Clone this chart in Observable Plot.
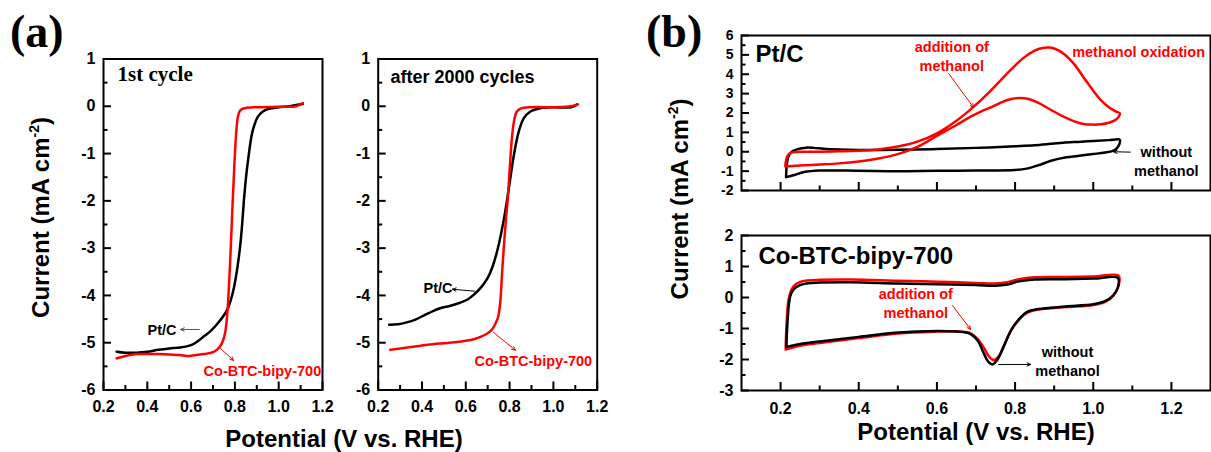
<!DOCTYPE html>
<html><head><meta charset="utf-8">
<script src="https://cdn.jsdelivr.net/npm/d3@7"></script>
<script src="https://cdn.jsdelivr.net/npm/@observablehq/plot@0.6"></script>
<style>
body{margin:0;background:#fff;}
#wrap{position:relative;width:1211px;height:452px;overflow:hidden;background:#fff;}
#wrap > svg{position:absolute;}
</style></head><body><div id="wrap"></div>
<script>
// ---------- DATA (x = potential V vs RHE, y = current mA cm-2) ----------
// (a) LSV, 1st cycle
const a1PtC = [[0.26,-5.19],[0.30,-5.21],[0.35,-5.21],[0.40,-5.19],[0.45,-5.15],[0.50,-5.12],[0.55,-5.10],[0.60,-5.05],[0.63,-4.97],[0.66,-4.86],[0.69,-4.75],[0.72,-4.60],[0.75,-4.42],[0.77,-4.25],[0.79,-3.95],[0.805,-3.6],[0.823,-3.0],[0.833,-2.5],[0.841,-2.0],[0.852,-1.45],[0.864,-1.0],[0.877,-0.6],[0.89,-0.38],[0.905,-0.22],[0.925,-0.12],[0.95,-0.06],[1.00,-0.02],[1.05,0.0],[1.08,0.03],[1.11,0.05]];
const a1Co = [[0.26,-5.33],[0.30,-5.28],[0.35,-5.24],[0.40,-5.24],[0.45,-5.24],[0.50,-5.25],[0.55,-5.26],[0.58,-5.28],[0.62,-5.26],[0.66,-5.24],[0.70,-5.20],[0.72,-5.14],[0.74,-5.02],[0.755,-4.8],[0.765,-4.4],[0.775,-3.6],[0.782,-2.9],[0.79,-2.0],[0.798,-1.2],[0.806,-0.55],[0.814,-0.22],[0.825,-0.08],[0.845,-0.04],[0.90,-0.02],[1.00,-0.01],[1.08,0.0],[1.11,0.07]];
// (a) LSV, after 2000 cycles
const a2PtC = [[0.25,-4.62],[0.29,-4.61],[0.33,-4.57],[0.37,-4.51],[0.41,-4.42],[0.45,-4.33],[0.49,-4.26],[0.53,-4.22],[0.57,-4.16],[0.61,-4.08],[0.64,-3.97],[0.67,-3.83],[0.70,-3.63],[0.72,-3.42],[0.745,-3.03],[0.775,-2.36],[0.797,-1.72],[0.82,-1.02],[0.842,-0.53],[0.865,-0.25],[0.895,-0.11],[0.94,-0.04],[1.00,-0.02],[1.08,-0.02],[1.11,0.04]];
const a2Co = [[0.255,-5.15],[0.30,-5.12],[0.35,-5.09],[0.40,-5.06],[0.45,-5.03],[0.50,-5.01],[0.55,-4.99],[0.60,-4.96],[0.64,-4.92],[0.67,-4.87],[0.70,-4.80],[0.72,-4.72],[0.735,-4.6],[0.748,-4.45],[0.758,-4.1],[0.766,-3.5],[0.775,-2.9],[0.783,-2.4],[0.791,-2.0],[0.798,-1.5],[0.805,-1.0],[0.812,-0.6],[0.82,-0.32],[0.832,-0.12],[0.85,-0.05],[0.90,-0.02],[1.00,-0.02],[1.08,0.0],[1.11,0.04]];
// (b) CV, Pt/C
const bPtNoMeOH = [[0.214,-1.31],[0.215,-0.9],[0.217,-0.5],[0.221,-0.2],[0.23,0.02],[0.245,0.14],[0.265,0.21],[0.285,0.2],[0.31,0.15],[0.35,0.11],[0.4,0.09],[0.5,0.1],[0.6,0.14],[0.7,0.2],[0.8,0.28],[0.85,0.33],[0.9,0.42],[0.95,0.5],[1.0,0.56],[1.04,0.6],[1.068,0.62],[1.067,0.4],[1.06,0.18],[1.05,0.05],[1.03,-0.04],[1.0,-0.12],[0.96,-0.22],[0.92,-0.33],[0.89,-0.48],[0.86,-0.7],[0.83,-0.87],[0.8,-0.94],[0.7,-0.97],[0.6,-0.98],[0.5,-1.0],[0.4,-0.98],[0.3,-0.97],[0.26,-1.05],[0.235,-1.2],[0.214,-1.31]];
const bPtMeOH = [[0.212,-0.76],[0.214,-0.45],[0.218,-0.2],[0.226,-0.06],[0.24,-0.01],[0.27,0.0],[0.3,0.0],[0.35,0.02],[0.4,0.05],[0.45,0.12],[0.5,0.27],[0.55,0.52],[0.6,0.95],[0.65,1.6],[0.69,2.25],[0.73,3.0],[0.76,3.62],[0.79,4.25],[0.82,4.82],[0.85,5.22],[0.87,5.36],[0.885,5.38],[0.9,5.33],[0.925,5.05],[0.95,4.55],[0.975,3.85],[1.0,3.15],[1.02,2.65],[1.04,2.3],[1.058,2.08],[1.068,1.98],[1.065,1.8],[1.055,1.62],[1.04,1.5],[1.02,1.42],[1.0,1.4],[0.975,1.43],[0.95,1.58],[0.92,1.85],[0.89,2.18],[0.86,2.52],[0.835,2.72],[0.812,2.78],[0.79,2.72],[0.765,2.55],[0.74,2.3],[0.715,2.1],[0.69,1.85],[0.65,1.38],[0.6,0.82],[0.55,0.25],[0.5,-0.12],[0.45,-0.35],[0.4,-0.5],[0.35,-0.6],[0.3,-0.66],[0.26,-0.7],[0.212,-0.76]];
// (b) CV, Co-BTC-bipy-700
const bCoNoMeOH = [[0.215,-1.6],[0.216,-1.2],[0.218,-0.74],[0.221,-0.25],[0.225,0.05],[0.234,0.27],[0.25,0.4],[0.27,0.46],[0.3,0.48],[0.38,0.49],[0.5,0.45],[0.6,0.43],[0.7,0.4],[0.75,0.38],[0.78,0.42],[0.81,0.52],[0.85,0.58],[0.93,0.59],[1.0,0.61],[1.063,0.63],[1.063,0.33],[1.05,0.05],[1.03,-0.12],[1.0,-0.22],[0.93,-0.29],[0.86,-0.37],[0.83,-0.47],[0.81,-0.7],[0.79,-1.05],[0.77,-1.6],[0.755,-2.0],[0.742,-2.16],[0.73,-2.05],[0.718,-1.75],[0.705,-1.4],[0.685,-1.17],[0.65,-1.1],[0.6,-1.08],[0.5,-1.13],[0.4,-1.27],[0.3,-1.42],[0.25,-1.5],[0.215,-1.6]];
const bCoMeOH = [[0.213,-1.68],[0.214,-1.2],[0.216,-0.7],[0.219,-0.2],[0.224,0.12],[0.233,0.36],[0.25,0.5],[0.27,0.55],[0.3,0.57],[0.38,0.58],[0.5,0.54],[0.6,0.51],[0.7,0.47],[0.75,0.45],[0.78,0.49],[0.81,0.59],[0.85,0.65],[0.93,0.66],[1.0,0.68],[1.065,0.7],[1.065,0.38],[1.052,0.07],[1.032,-0.13],[1.0,-0.24],[0.93,-0.31],[0.86,-0.39],[0.83,-0.5],[0.81,-0.72],[0.79,-1.05],[0.772,-1.55],[0.758,-1.9],[0.745,-2.02],[0.733,-1.9],[0.72,-1.62],[0.705,-1.35],[0.685,-1.15],[0.65,-1.09],[0.6,-1.1],[0.5,-1.16],[0.4,-1.31],[0.3,-1.47],[0.25,-1.56],[0.213,-1.68]];

// ---------- TICKS ----------
const aXTicks = [0.2,0.4,0.6,0.8,1.0,1.2];
const aXMinor = [0.3,0.5,0.7,0.9,1.1];
const aYTicks = [-6,-5,-4,-3,-2,-1,0,1];
const aYMinor = [-5.5,-4.5,-3.5,-2.5,-1.5,-0.5,0.5];
const bXTicks = [0.2,0.4,0.6,0.8,1.0,1.2];
const bXMinor = [0.3,0.5,0.7,0.9,1.1];
const bTopYTicks = [-2,-1,0,1,2,3,4,5,6];
const bTopYMinor = [-1.5,-0.5,0.5,1.5,2.5,3.5,4.5,5.5];
const bBotYTicks = [-3,-2,-1,0,1,2];
const bBotYMinor = [-2.5,-1.5,-0.5,0.5,1.5];

// ---------- ANNOTATIONS (data coordinates) ----------
const a1Notes = [
  {x:0.264, y:0.72, text:"1st cycle", color:"#000", serif:true, size:21, anchor:"start"},
  {x:0.401, y:-4.70, text:"Pt/C", color:"#000", size:14.5, anchor:"start"},
  {x:0.657, y:-5.566, text:"Co-BTC-bipy-700", color:"#ff0000", size:14.5, anchor:"start"}
];
const a1Arrows = [
  {x1:0.638, y1:-4.72, x2:0.552, y2:-4.72, color:"#555"},
  {x1:0.734, y1:-5.12, x2:0.794, y2:-5.375, color:"#ff0000"}
];
const a2Notes = [
  {x:0.256, y:0.65, text:"after 2000 cycles", color:"#000", size:18, anchor:"start"},
  {x:0.407, y:-3.83, text:"Pt/C", color:"#000", size:14.5, anchor:"start"},
  {x:0.640, y:-5.375, text:"Co-BTC-bipy-700", color:"#ff0000", size:14.5, anchor:"start"}
];
const a2Arrows = [
  {x1:0.640, y1:-3.91, x2:0.539, y2:-3.87, color:"#000"},
  {x1:0.726, y1:-4.78, x2:0.827, y2:-5.16, color:"#ff0000"}
];
const bTopNotes = [
  {x:0.136, y:5.17, text:"Pt/C", color:"#000", size:24, anchor:"start"},
  {x:0.638, y:4.97, text:"addition of\nmethanol", color:"#ff0000", size:14.5, anchor:"middle"},
  {x:0.946, y:5.2, text:"methanol oxidation", color:"#ff0000", size:14.5, anchor:"start"},
  {x:1.187, y:-0.46, text:"without\nmethanol", color:"#000", size:14.5, anchor:"middle"}
];
const bTopArrows = [
  {x1:0.63, y1:4.04, x2:0.694, y2:2.28, color:"#ff0000"},
  {x1:1.095, y1:-0.02, x2:1.052, y2:0.0, color:"#000"}
];
const bBotNotes = [
  {x:0.1435, y:1.40, text:"Co-BTC-bipy-700", color:"#000", size:24, anchor:"start"},
  {x:0.546, y:-0.153, text:"addition of\nmethanol", color:"#ff0000", size:14.5, anchor:"middle"},
  {x:0.934, y:-2.03, text:"without\nmethanol", color:"#000", size:14.5, anchor:"middle"}
];
const bBotArrows = [
  {x1:0.64, y1:-0.26, x2:0.686, y2:-1.03, color:"#ff0000"},
  {x1:0.758, y1:-2.16, x2:0.84, y2:-2.16, color:"#000"}
];

// ---------- RENDER ----------
const SANS = '"Liberation Sans", Arial, Helvetica, sans-serif';
const SERIF = '"Liberation Serif", "Times New Roman", serif';
const RED = "#ff0000";
const wrap = document.getElementById("wrap");

function panel(cfg) {
  const fw = cfg.width - cfg.m[1] - cfg.m[3];   // frame width (px)
  const fh = cfg.height - cfg.m[0] - cfg.m[2];  // frame height (px)
  const marks = [];
  // inward ticks (major 8px, minor 4.5px)
  marks.push(Plot.tickX(cfg.xTicks, {x: d => d, insetTop: fh - 8, stroke:"#000", strokeWidth:2}));
  marks.push(Plot.tickX(cfg.xMinor, {x: d => d, insetTop: fh - 4.5, stroke:"#000", strokeWidth:2}));
  marks.push(Plot.tickY(cfg.yTicks, {y: d => d, insetRight: fw - 8, stroke:"#000", strokeWidth:2}));
  marks.push(Plot.tickY(cfg.yMinor, {y: d => d, insetRight: fw - 4.5, stroke:"#000", strokeWidth:2}));
  // tick labels (no outward ticks)
  marks.push(Plot.axisX(cfg.xTicks, {anchor:"bottom", tickSize:0, tickPadding: cfg.xPad,
    tickFormat: cfg.xLabels ? (d => d.toFixed(1)) : (() => ""), fontSize: cfg.xFont, fontWeight:"bold",
    fontFamily: SANS, label:null, fill:"#000"}));
  marks.push(Plot.axisY(cfg.yTicks, {anchor:"left", tickSize:0, tickPadding: 8,
    tickFormat: d => String(d), fontSize: cfg.yFont, fontWeight:"bold", fontFamily: SANS,
    label:null, fill:"#000"}));
  for (const s of cfg.series) {
    marks.push(Plot.line(s.data, {x: d => d[0], y: d => d[1], stroke: s.color, strokeWidth: s.width || 2.5, curve: "catmull-rom"}));
  }
  marks.push(Plot.frame({stroke:"#000", strokeWidth:2, fill:"none"}));
  marks.push(Plot.arrow(cfg.arrows, {x1:"x1", y1:"y1", x2:"x2", y2:"y2", stroke: d => d.color, strokeWidth:1, headLength:6, headAngle:50}));
  const groups = [
    {serif:false, anchor:"start"}, {serif:true, anchor:"start"}, {serif:false, anchor:"middle"}
  ];
  for (const g of groups) {
    const sub = cfg.notes.filter(d => !!d.serif === g.serif && d.anchor === g.anchor);
    if (!sub.length) continue;
    marks.push(Plot.text(sub, {x:"x", y:"y", text:"text", fill: d => d.color,
      fontSize: d => d.size, fontWeight:"bold", fontFamily: g.serif ? SERIF : SANS,
      textAnchor: g.anchor, lineAnchor:"middle", lineHeight:1.3}));
  }
  const svg = Plot.plot({
    width: cfg.width, height: cfg.height,
    marginLeft: cfg.m[3], marginRight: cfg.m[1], marginTop: cfg.m[0], marginBottom: cfg.m[2],
    x: {domain: cfg.xDomain, label:null},
    y: {domain: cfg.yDomain, label:null},
    style: {background:"transparent", overflow:"visible", fontFamily: SANS, color:"#000"},
    marks
  });
  svg.style.left = cfg.left + "px";
  svg.style.top = cfg.top + "px";
  wrap.appendChild(svg);
  return svg;
}

// Panel a1
panel({left:0, top:0, width:335, height:452, m:[58.5,13,62.5,103],
  xDomain:[0.2,1.2], yDomain:[-6,1], xTicks:aXTicks, xMinor:aXMinor, yTicks:aYTicks, yMinor:aYMinor,
  xLabels:true, xPad:10.5, xFont:16, yFont:16,
  series:[{data:a1PtC, color:"#000"},{data:a1Co, color:RED}],
  notes:a1Notes, arrows:a1Arrows});
// Panel a2
panel({left:335, top:0, width:280, height:452, m:[58.5,18.3,62.5,42.7],
  xDomain:[0.2,1.2], yDomain:[-6,1], xTicks:aXTicks, xMinor:aXMinor, yTicks:aYTicks, yMinor:aYMinor,
  xLabels:true, xPad:10.5, xFont:16, yFont:16,
  series:[{data:a2PtC, color:"#000"},{data:a2Co, color:RED}],
  notes:a2Notes, arrows:a2Arrows});
// Panel b, Pt/C
panel({left:615, top:0, width:596, height:200, m:[35,1,10,126],
  xDomain:[0.1,1.3], yDomain:[-2,6], xTicks:bXTicks, xMinor:bXMinor, yTicks:bTopYTicks, yMinor:bTopYMinor,
  xLabels:false, xPad:10, xFont:16, yFont:14,
  series:[{data:bPtNoMeOH, color:"#000"},{data:bPtMeOH, color:RED}],
  notes:bTopNotes, arrows:bTopArrows});
// Panel b, Co-BTC-bipy-700
panel({left:615, top:200, width:596, height:252, m:[35,1,62,126],
  xDomain:[0.1,1.3], yDomain:[-3,2], xTicks:bXTicks, xMinor:bXMinor, yTicks:bBotYTicks, yMinor:bBotYMinor,
  xLabels:true, xPad:12, xFont:16, yFont:16,
  series:[{data:bCoMeOH, color:RED},{data:bCoNoMeOH, color:"#000"}],
  notes:bBotNotes, arrows:bBotArrows});

// ---------- Overlay: panel letters and axis titles ----------
const ov = d3.select(wrap).append("svg").attr("width",1211).attr("height",452)
  .style("left","0px").style("top","0px").style("pointer-events","none");
ov.append("text").attr("x",10).attr("y",47).attr("font-family",SERIF).attr("font-weight","bold")
  .attr("font-size",46).text("(a)");
ov.append("text").attr("x",646).attr("y",47).attr("font-family",SERIF).attr("font-weight","bold")
  .attr("font-size",46).text("(b)");
function xTitle(cx, by) {
  ov.append("text").attr("x",cx).attr("y",by).attr("text-anchor","middle")
    .attr("font-family",SANS).attr("font-weight","bold").attr("font-size",24)
    .text("Potential (V vs. RHE)");
}
function yTitle(bx, cy) {
  const t = ov.append("text").attr("transform",`translate(${bx},${cy}) rotate(-90)`)
    .attr("text-anchor","middle").attr("font-family",SANS).attr("font-weight","bold").attr("font-size",24);
  t.append("tspan").text("Current (mA cm");
  t.append("tspan").attr("font-size",14).attr("dy",-10).text("-2");
  t.append("tspan").attr("dy",10).text(")");
}
xTitle(344, 447);
xTitle(976, 440);
yTitle(49, 217.5);
yTitle(688, 199);
</script></body></html>
